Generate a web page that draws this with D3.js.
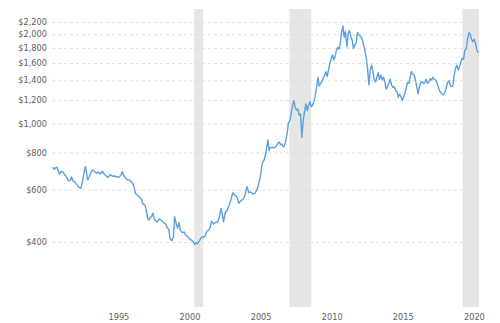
<!DOCTYPE html>
<html>
<head>
<meta charset="utf-8">
<script src="https://cdn.jsdelivr.net/npm/d3@7"></script>
<style>
  html, body { margin: 0; padding: 0; background: #fff; }
  svg { display: block; }
  .tick-label { font-family: "DejaVu Sans", Verdana, sans-serif; font-size: 8.2px; fill: #606060; }
</style>
</head>
<body>
<svg id="chart" width="500" height="323"></svg>
<script>
// Gold price (USD per ounce, inflation adjusted), decimal year vs. price
const years = [
  1990.37, 1990.49, 1990.58, 1990.68, 1990.77, 1990.86, 1990.96, 1991.10, 1991.24, 1991.38,
  1991.49, 1991.61, 1991.70, 1991.80, 1991.94, 1992.08, 1992.22, 1992.36, 1992.45, 1992.55,
  1992.67, 1992.74, 1992.83, 1992.93, 1993.07, 1993.18, 1993.30, 1993.44, 1993.58, 1993.72,
  1993.86, 1994.00, 1994.14, 1994.28, 1994.42, 1994.56, 1994.70, 1994.89, 1995.04, 1995.18,
  1995.27, 1995.36, 1995.50, 1995.64, 1995.78, 1995.92, 1996.02, 1996.11, 1996.20, 1996.34,
  1996.48, 1996.62, 1996.72, 1996.86, 1996.96, 1997.05, 1997.15, 1997.24, 1997.33, 1997.43,
  1997.52, 1997.61, 1997.71, 1997.80, 1997.89, 1998.03, 1998.17, 1998.31, 1998.41, 1998.55,
  1998.64, 1998.76, 1998.87, 1998.95, 1999.06, 1999.16, 1999.25, 1999.35, 1999.49, 1999.63,
  1999.72, 1999.86, 2000.00, 2000.14, 2000.28, 2000.38, 2000.47, 2000.56, 2000.70, 2000.84,
  2000.98, 2001.13, 2001.22, 2001.36, 2001.46, 2001.55, 2001.69, 2001.83, 2001.97, 2002.11,
  2002.21, 2002.30, 2002.39, 2002.53, 2002.63, 2002.77, 2002.91, 2003.05, 2003.19, 2003.33,
  2003.47, 2003.61, 2003.76, 2003.90, 2004.04, 2004.18, 2004.32, 2004.46, 2004.60, 2004.74,
  2004.88, 2005.02, 2005.11, 2005.25, 2005.38, 2005.51, 2005.60, 2005.65, 2005.79, 2005.94,
  2006.08, 2006.22, 2006.31, 2006.40, 2006.50, 2006.59, 2006.68, 2006.78, 2006.87, 2006.96,
  2007.06, 2007.15, 2007.24, 2007.34, 2007.43, 2007.52, 2007.62, 2007.71, 2007.81, 2007.90,
  2008.00, 2008.09, 2008.19, 2008.28, 2008.37, 2008.47, 2008.56, 2008.65, 2008.75, 2008.84,
  2008.93, 2009.03, 2009.12, 2009.21, 2009.31, 2009.40, 2009.49, 2009.59, 2009.68, 2009.78,
  2009.87, 2009.96, 2010.06, 2010.15, 2010.25, 2010.34, 2010.44, 2010.53, 2010.62, 2010.69,
  2010.79, 2010.88, 2010.97, 2011.07, 2011.16, 2011.25, 2011.35, 2011.44, 2011.53, 2011.63,
  2011.72, 2011.81, 2011.91, 2012.00, 2012.15, 2012.24, 2012.33, 2012.43, 2012.52, 2012.62,
  2012.71, 2012.80, 2012.90, 2012.99, 2013.08, 2013.18, 2013.27, 2013.36, 2013.46, 2013.55,
  2013.64, 2013.74, 2013.83, 2013.92, 2014.02, 2014.11, 2014.21, 2014.30, 2014.40, 2014.49,
  2014.59, 2014.68, 2014.77, 2014.87, 2014.96, 2015.05, 2015.15, 2015.24, 2015.33, 2015.43,
  2015.52, 2015.61, 2015.71, 2015.80, 2015.89, 2015.99, 2016.08, 2016.17, 2016.27, 2016.36,
  2016.46, 2016.55, 2016.65, 2016.74, 2016.84, 2016.93, 2017.02, 2017.12, 2017.21, 2017.30,
  2017.40, 2017.49, 2017.58, 2017.68, 2017.77, 2017.86, 2017.96, 2018.05, 2018.14, 2018.24,
  2018.33, 2018.43, 2018.52, 2018.62, 2018.71, 2018.80, 2018.90, 2018.99, 2019.09, 2019.18,
  2019.27, 2019.37, 2019.46, 2019.55, 2019.65, 2019.74, 2019.83, 2019.93, 2020.02, 2020.11,
  2020.21, 2020.30
];

const prices = [
  714, 703, 711, 714, 695, 677, 690, 688, 672, 660,
  643, 645, 662, 642, 637, 624, 611, 606, 630, 672,
  717, 695, 647, 660, 684, 699, 692, 681, 688, 677,
  692, 677, 667, 660, 674, 667, 667, 663, 660, 672,
  690, 672, 657, 647, 647, 637, 630, 611, 583, 574,
  568, 557, 537, 532, 513, 481, 474, 484, 487, 500,
  479, 472, 467, 472, 479, 472, 465, 460, 450, 439,
  410, 404, 415, 487, 462, 445, 465, 439, 430, 432,
  422, 417, 410, 406, 400, 392, 398, 394, 404, 415,
  415, 421, 435, 439, 448, 470, 460, 465, 467, 487,
  518, 500, 468, 506, 510, 529, 554, 586, 574, 568,
  540, 551, 557, 574, 614, 586, 589, 580, 583, 599,
  630, 681, 736, 755, 800, 882, 812, 827, 833, 829,
  837, 859, 868, 850, 855, 837, 842, 882, 929, 1008,
  1024, 1084, 1148, 1196, 1136, 1112, 1119, 1068, 1079, 900,
  1030, 1098, 1165, 1107, 1148, 1186, 1141, 1154, 1186, 1240,
  1316, 1433, 1340, 1361, 1385, 1422, 1448, 1497, 1440, 1517,
  1598, 1648, 1704, 1639, 1691, 1771, 1808, 1781, 1889, 2016,
  2133, 1954, 2041, 1817, 2016, 2057, 1963, 1914, 1794, 1841,
  1865, 2025, 1989, 1974, 1924, 1841, 1771, 1660, 1537, 1350,
  1517, 1573, 1497, 1404, 1382, 1433, 1485, 1411, 1456, 1404,
  1433, 1385, 1306, 1333, 1368, 1411, 1350, 1326, 1333, 1292,
  1286, 1228, 1259, 1233, 1196, 1228, 1266, 1316, 1375, 1368,
  1433, 1497, 1470, 1459, 1404, 1326, 1259, 1333, 1375, 1385,
  1368, 1375, 1411, 1368, 1385, 1418, 1404, 1433, 1411, 1404,
  1375, 1333, 1292, 1272, 1259, 1250, 1272, 1316, 1375, 1396,
  1350, 1333, 1340, 1459, 1537, 1573, 1517, 1556, 1617, 1660,
  1648, 1771, 1781, 1914, 2025, 2005, 1924, 1889, 1924, 1865,
  1771, 1734
];

// Shaded recession periods [start, end] in decimal years
const recessionStart = [2000.33, 2007.03, 2019.20];
const recessionEnd   = [2000.96, 2008.56, 2020.36];

// Axis ticks
const yTicks = [400, 600, 800, 1000, 1200, 1400, 1600, 1800, 2000, 2200];
const xTicks = [1995, 2000, 2005, 2010, 2015, 2020];

const plot = { left: 52, right: 479, top: 9, bottom: 307 };

const svg = d3.select("#chart");

const x = d3.scaleLinear()
  .domain([1990.33, 2020.36])
  .range([plot.left, plot.right]);

const y = d3.scaleLog()
  .domain([241.7, 2432])
  .range([plot.bottom, plot.top]);

// Recession bands
svg.append("g")
  .selectAll("rect")
  .data(recessionStart.map((s, i) => [s, recessionEnd[i]]))
  .join("rect")
  .attr("x", d => x(d[0]))
  .attr("width", d => x(d[1]) - x(d[0]))
  .attr("y", plot.top)
  .attr("height", plot.bottom - plot.top)
  .attr("fill", "#e6e6e6");

// Horizontal dashed gridlines with dollar labels
const fmt = v => "$" + d3.format(",")(v);
const yAxis = d3.axisLeft(y)
  .tickValues(yTicks)
  .tickFormat(fmt)
  .tickSize(-(plot.right - plot.left))
  .tickPadding(5);

const gy = svg.append("g")
  .attr("transform", `translate(${plot.left},0)`)
  .call(yAxis);
gy.select(".domain").remove();
gy.selectAll(".tick line")
  .attr("stroke", "#e0e0e0")
  .attr("stroke-width", 1)
  .attr("stroke-dasharray", "3,3");
gy.selectAll(".tick text")
  .attr("class", "tick-label")
  .attr("x", -5)
  .attr("dy", "0.32em");

// Year labels along the bottom
const xAxis = d3.axisBottom(x)
  .tickValues(xTicks)
  .tickFormat(d3.format("d"))
  .tickSize(0)
  .tickPadding(7);

const gx = svg.append("g")
  .attr("transform", `translate(0,${plot.bottom})`)
  .call(xAxis);
gx.select(".domain").remove();
gx.selectAll(".tick text").attr("class", "tick-label");

// Price line
const line = d3.line()
  .x((d, i) => x(years[i]))
  .y(d => y(d));

svg.append("path")
  .datum(prices)
  .attr("fill", "none")
  .attr("stroke", "#5b9fe0")
  .attr("stroke-width", 1.4)
  .attr("stroke-linejoin", "round")
  .attr("d", line);
</script>
</body>
</html>
